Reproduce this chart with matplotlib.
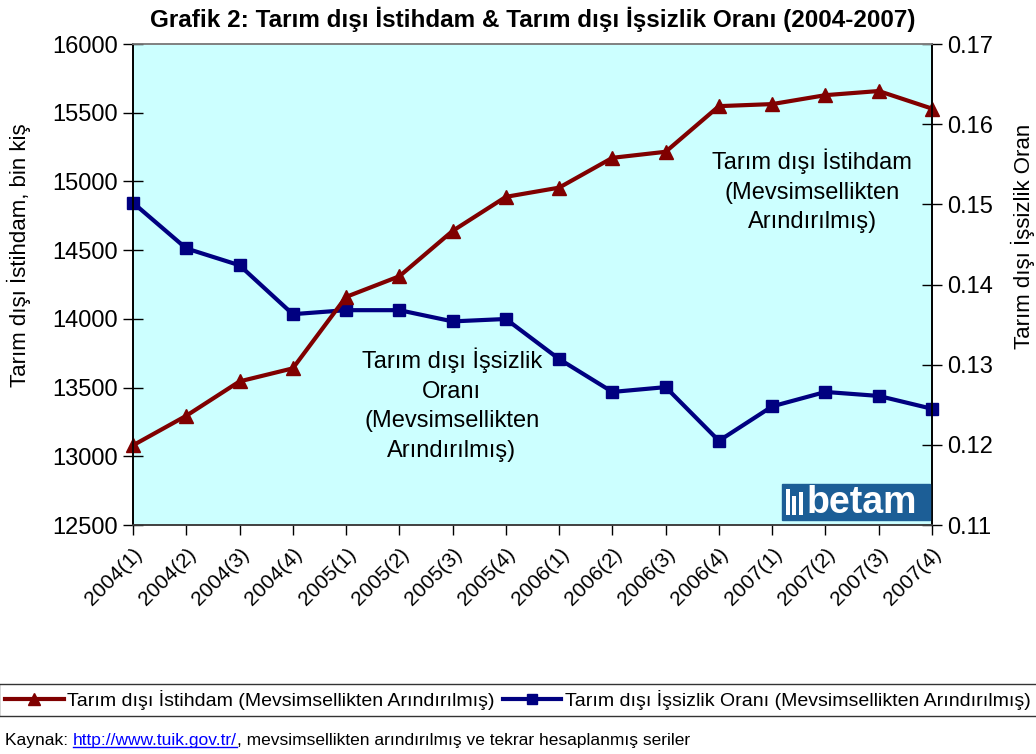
import matplotlib
matplotlib.use('Agg')
import matplotlib.pyplot as plt
from matplotlib.patches import Rectangle
from matplotlib.lines import Line2D

plt.rcParams['font.family'] = ['Liberation Sans', 'DejaVu Sans']

quarters = ['2004(1)', '2004(2)', '2004(3)', '2004(4)',
            '2005(1)', '2005(2)', '2005(3)', '2005(4)',
            '2006(1)', '2006(2)', '2006(3)', '2006(4)',
            '2007(1)', '2007(2)', '2007(3)', '2007(4)']
istihdam = [13080, 13295, 13545, 13640, 14160, 14310, 14640, 14888,
            14955, 15172, 15216, 15548, 15563, 15628, 15658, 15530]
issizlik = [0.1502, 0.1445, 0.1424, 0.1363, 0.1368, 0.1368, 0.1354, 0.1357,
            0.1307, 0.1266, 0.1272, 0.1205, 0.1248, 0.1266, 0.1261, 0.1245]

red = '#800000'
navy = '#000080'
bg = '#CCFFFF'

fig = plt.figure(figsize=(10.36, 7.54), dpi=100)
ax = fig.add_axes([0.1284, 0.3037, 0.7712, 0.6379])
ax2 = ax.twinx()
ax.set_zorder(2)
ax.patch.set_visible(False)
ax2.set_zorder(1)
ax2.patch.set_visible(True)
ax2.patch.set_facecolor(bg)

x = list(range(len(quarters)))
l1, = ax.plot(x, istihdam, color=red, lw=3, marker='^', ms=10, clip_on=False)
l2, = ax2.plot(x, issizlik, color=navy, lw=3, marker='s', ms=9, clip_on=False)

ax.set_xlim(0, len(quarters) - 1)
ax.set_ylim(12500, 16000)
ax.set_yticks(range(12500, 16001, 500))
ax2.set_ylim(0.11, 0.17)
ax2.set_yticks([0.11, 0.12, 0.13, 0.14, 0.15, 0.16, 0.17])
ax2.set_yticklabels(['0.11', '0.12', '0.13', '0.14', '0.15', '0.16', '0.17'])

ax.set_xticks(x)
ax.set_xticklabels(quarters, rotation=45, ha='right', rotation_mode='anchor', fontsize=15)
ax.tick_params(axis='x', length=7, width=1, direction='out', pad=7)
ax.tick_params(axis='y', length=14, width=1, direction='inout', labelsize=17, pad=4)
ax2.tick_params(axis='y', length=14, width=1, direction='inout', labelsize=17, pad=4)

for a in (ax, ax2):
    a.spines['top'].set_color('#808080')
    a.spines['bottom'].set_color('#404040')
    a.spines['left'].set_color('black')
    a.spines['right'].set_color('black')
    for s in a.spines.values():
        s.set_linewidth(1.2)

ax.set_ylabel('Tarım dışı İstihdam, bin kiş', fontsize=16)
ax.yaxis.set_label_coords(-0.128, 0.56)
ax2.set_ylabel('Tarım dışı İşsizlik Oran', fontsize=16)
ax2.yaxis.set_label_coords(1.099, 0.6)

ax.set_title('Grafik 2: Tarım dışı İstihdam & Tarım dışı İşsizlik Oranı (2004-2007)',
             fontsize=17.5, fontweight='bold', pad=12)

ax.text(0.85, 0.695, 'Tarım dışı İstihdam\n(Mevsimsellikten\nArındırılmış)',
        transform=ax.transAxes, ha='center', va='center', fontsize=17, linespacing=1.45)
ax.text(0.399, 0.25, 'Tarım dışı İşsizlik\nOranı\n(Mevsimsellikten\nArındırılmış)',
        transform=ax.transAxes, ha='center', va='center', fontsize=17, linespacing=1.45)

# betam logo
ax.add_patch(Rectangle((0.812, 0.010), 0.186, 0.076, transform=ax.transAxes,
                       facecolor='#1C5E96', edgecolor='#1C5E96', zorder=5))
for i, h in enumerate([0.055, 0.04, 0.048]):
    ax.add_patch(Rectangle((0.817 + i * 0.008, 0.02), 0.005, h, transform=ax.transAxes,
                           facecolor='white', edgecolor='none', zorder=6))
ax.text(0.912, 0.046, 'betam', transform=ax.transAxes, ha='center', va='center',
        fontsize=27, fontweight='bold', color='white', zorder=7)

leg = fig.legend([l1, l2],
                 ['Tarım dışı İstihdam (Mevsimsellikten Arındırılmış)',
                  'Tarım dışı İşsizlik Oranı (Mevsimsellikten Arındırılmış)'],
                 loc='center', bbox_to_anchor=(0.5, 1 - 700 / 754), ncol=2,
                 fontsize=14, frameon=True, fancybox=False, edgecolor='black',
                 handlelength=3, handletextpad=0.2, columnspacing=0.4,
                 borderpad=0.3, markerscale=0.8)
leg.get_frame().set_linewidth(1)

# source line with link
fig.canvas.draw()
r = fig.canvas.get_renderer()
y_src = 1 - 741 / 754
t1 = fig.text(0.005, y_src, 'Kaynak: ', fontsize=12.5, va='center')
bb = t1.get_window_extent(r)
x2 = bb.x1 / fig.bbox.width
t2 = fig.text(x2, y_src, 'http://www.tuik.gov.tr/', fontsize=12.5, va='center', color='#0000FF')
bb2 = t2.get_window_extent(r)
fig.add_artist(Line2D([bb2.x0 / fig.bbox.width, bb2.x1 / fig.bbox.width],
                      [bb2.y0 / fig.bbox.height + 0.002] * 2, color='#0000FF', lw=1))
fig.text(bb2.x1 / fig.bbox.width, y_src,
         ', mevsimsellikten arındırılmış ve tekrar hesaplanmış seriler',
         fontsize=12.5, va='center')

fig.savefig('out.png', dpi=100)
